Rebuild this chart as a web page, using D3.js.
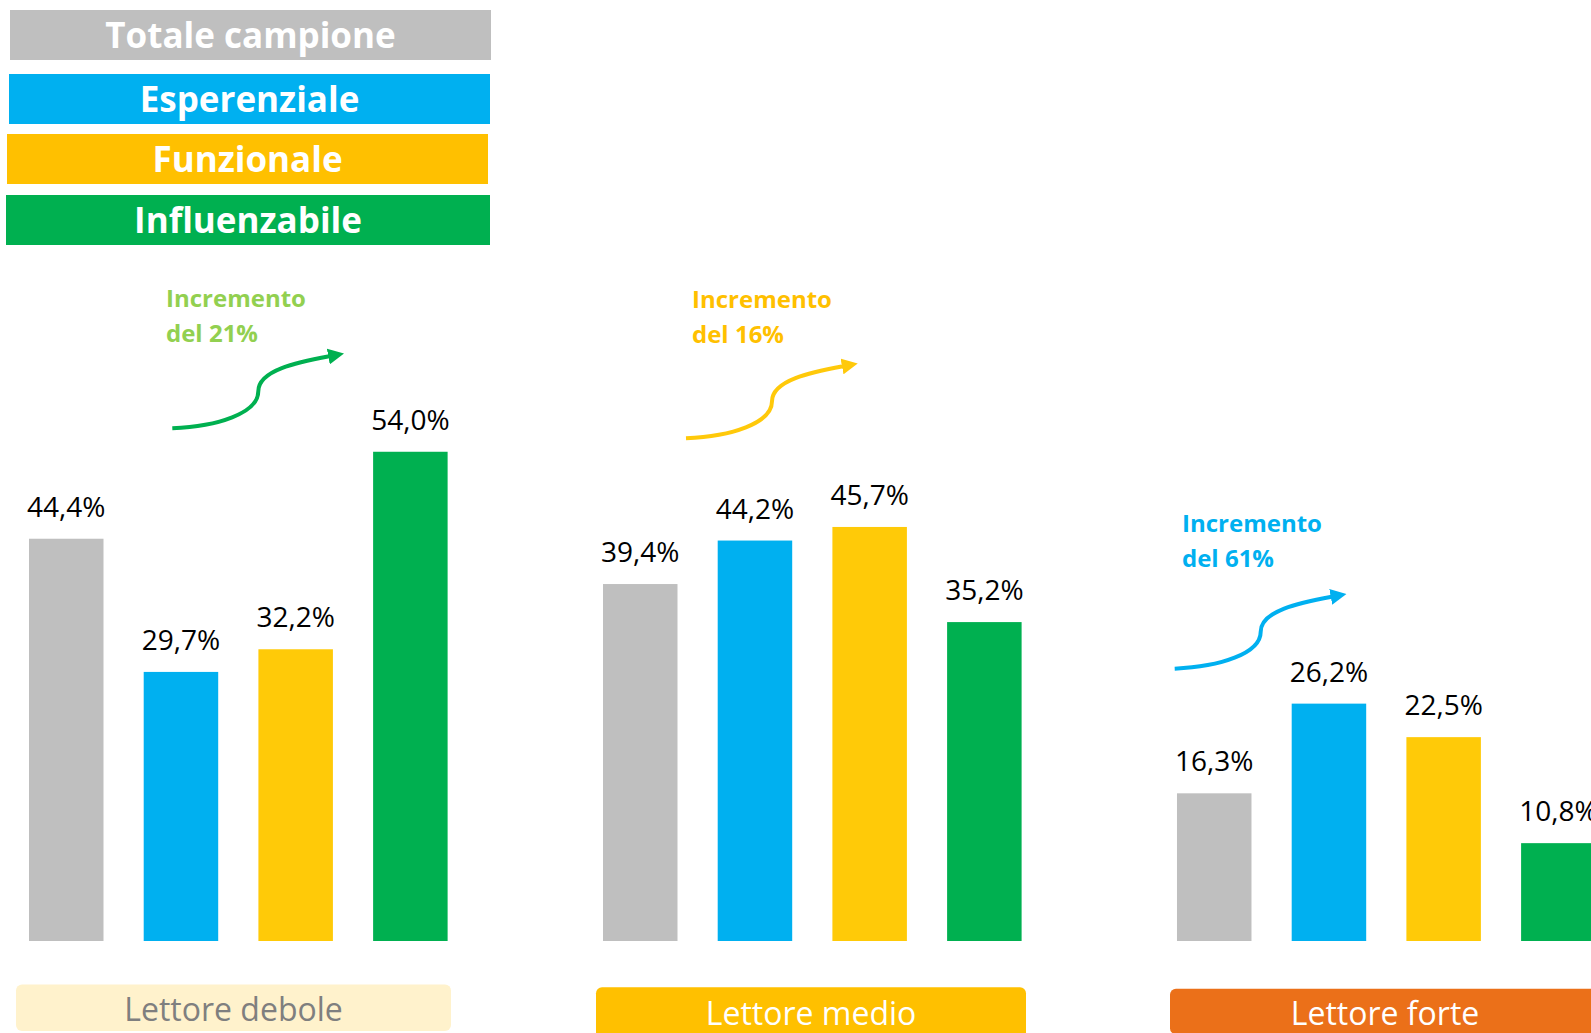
<!DOCTYPE html>
<html>
<head>
<meta charset="utf-8">
<script src="https://cdn.jsdelivr.net/npm/d3@7"></script>
<style>
  html, body { margin: 0; padding: 0; background: #fff; }
  svg { display: block; overflow: hidden; }
  text { font-family: "Open Sans", "Noto Sans", sans-serif; }
</style>
</head>
<body>
<svg id="chart" width="1591" height="1033"></svg>
<script>
// ---- Data ----
const groups = ["Lettore debole", "Lettore medio", "Lettore forte"];
const seriesNames = ["Totale campione", "Esperenziale", "Funzionale", "Influenzabile"];
const totale = [44.4, 39.4, 16.3];
const esperenziale = [29.7, 44.2, 26.2];
const funzionale = [32.2, 45.7, 22.5];
const influenzabile = [54.0, 35.2, 10.8];
const incrementLine1 = ["Incremento", "Incremento", "Incremento"];
const incrementLine2 = ["del 21%", "del 16%", "del 61%"];

// ---- Styles ----
const barColors = ["#BFBFBF", "#00B0F0", "#FFCA08", "#00B050"];
const legendColors = ["#BFBFBF", "#00B0F0", "#FFC000", "#00B050"];
const annoTextColors = ["#92D050", "#FFC000", "#00B0F0"];
const arrowColors = ["#00B050", "#FFC90A", "#00B0F0"];
const groupBoxFill = ["#FFF2CC", "#FFC000", "#EB7019"];
const groupTextFill = ["#7F7F7F", "#FFFFFF", "#FFFFFF"];

const seriesValues = [totale, esperenziale, funzionale, influenzabile];
const table = groups.map((g, gi) => ({
  group: g,
  values: seriesNames.map((s, si) => ({ series: s, si, value: seriesValues[si][gi] }))
}));

const svg = d3.select("#chart");

// ---- Scales ----
const x0 = d3.scaleBand().domain(groups).range([29, 1595.6]).paddingInner(0.2707).paddingOuter(0);
const x1 = d3.scaleBand().domain(seriesNames).range([0, x0.bandwidth()]).paddingInner(0.3505).paddingOuter(0);
const y = d3.scaleLinear().domain([0, 60]).range([941, 941 - 60 * 9.06]);
const fmt = v => d3.format(".1f")(v).replace(".", ",") + "%";

// ---- Legend ----
const legendBoxes = [
  { x: 10, y: 10, w: 481, h: 50 },
  { x: 9, y: 74, w: 481, h: 50 },
  { x: 7, y: 134, w: 481, h: 50 },
  { x: 6, y: 195, w: 484, h: 50 }
];
const leg = svg.append("g").attr("class", "legend");
seriesNames.forEach((s, i) => {
  const b = legendBoxes[i];
  leg.append("rect").attr("x", b.x).attr("y", b.y).attr("width", b.w).attr("height", b.h)
    .attr("fill", legendColors[i]);
  leg.append("text").attr("x", b.x + b.w / 2).attr("y", b.y + b.h / 2 + 12.5)
    .attr("text-anchor", "middle").attr("fill", "#fff")
    .attr("font-weight", 700).attr("font-size", 35).text(s);
});

// ---- Bars ----
const gGroups = svg.append("g").selectAll("g").data(table).join("g")
  .attr("transform", d => `translate(${x0(d.group)},0)`);

gGroups.selectAll("rect").data(d => d.values).join("rect")
  .attr("x", d => x1(d.series))
  .attr("y", d => y(d.value))
  .attr("width", x1.bandwidth())
  .attr("height", d => y(0) - y(d.value))
  .attr("fill", d => barColors[d.si]);

gGroups.selectAll("text.val").data(d => d.values).join("text")
  .attr("class", "val")
  .attr("x", d => x1(d.series) + x1.bandwidth() / 2)
  .attr("y", d => y(d.value) - 22)
  .attr("text-anchor", "middle")
  .attr("font-size", 28)
  .attr("fill", "#000")
  .text(d => fmt(d.value));

// ---- Category label boxes ----
const catBoxes = [
  { x: 16, y: 984.5, w: 435, h: 46.5, ty: 1020.7 },
  { x: 596, y: 987.3, w: 430, h: 52, ty: 1025 },
  { x: 1170, y: 988.7, w: 432, h: 45.5, ty: 1025.3 }
];
const cat = svg.append("g").attr("class", "categories");
groups.forEach((g, i) => {
  const b = catBoxes[i];
  cat.append("rect").attr("x", b.x).attr("y", b.y).attr("width", b.w).attr("height", b.h)
    .attr("rx", 6).attr("ry", 6).attr("fill", groupBoxFill[i]);
  cat.append("text").attr("x", b.x + b.w / 2 + (i === 2 ? -1 : 0)).attr("y", b.ty)
    .attr("text-anchor", "middle").attr("font-size", 32)
    .attr("fill", groupTextFill[i]).text(g);
});

// ---- Increment annotations ----
const annoLayout = [
  { tx: 166, ty: 306.7, ax: 172.3, ay: 428.3 },
  { tx: 692, ty: 307.7, ax: 686, ay: 438.3 },
  { tx: 1182, ty: 531.7, ax: 1174.7, ay: 668.7 }
];
const defs = svg.append("defs");
arrowColors.forEach((c, i) => {
  defs.append("marker").attr("id", "ah" + i)
    .attr("markerUnits", "userSpaceOnUse")
    .attr("viewBox", "0 -8 16 16")
    .attr("refX", 1).attr("refY", 0)
    .attr("markerWidth", 16).attr("markerHeight", 16)
    .attr("orient", "auto")
    .append("path").attr("d", "M0,-8L16,0L0,8Z").attr("fill", c);
});
const anno = svg.append("g").attr("class", "annotations");
annoLayout.forEach((a, i) => {
  anno.append("text").attr("x", a.tx).attr("y", a.ty)
    .attr("font-size", 24).attr("font-weight", 700).attr("fill", annoTextColors[i])
    .text(incrementLine1[i]);
  anno.append("text").attr("x", a.tx).attr("y", a.ty + 35.5)
    .attr("font-size", 24).attr("font-weight", 700).attr("fill", annoTextColors[i])
    .text(incrementLine2[i]);
  const p = d3.path();
  p.moveTo(0, 0);
  p.bezierCurveTo(45, -2, 86, -15, 86, -37);
  p.bezierCurveTo(86, -58, 125, -66, 157, -72);
  anno.append("path")
    .attr("transform", `translate(${a.ax},${a.ay})`)
    .attr("d", p.toString())
    .attr("fill", "none")
    .attr("stroke", arrowColors[i])
    .attr("stroke-width", 4)
    .attr("marker-end", `url(#ah${i})`);
});
</script>
</body>
</html>
